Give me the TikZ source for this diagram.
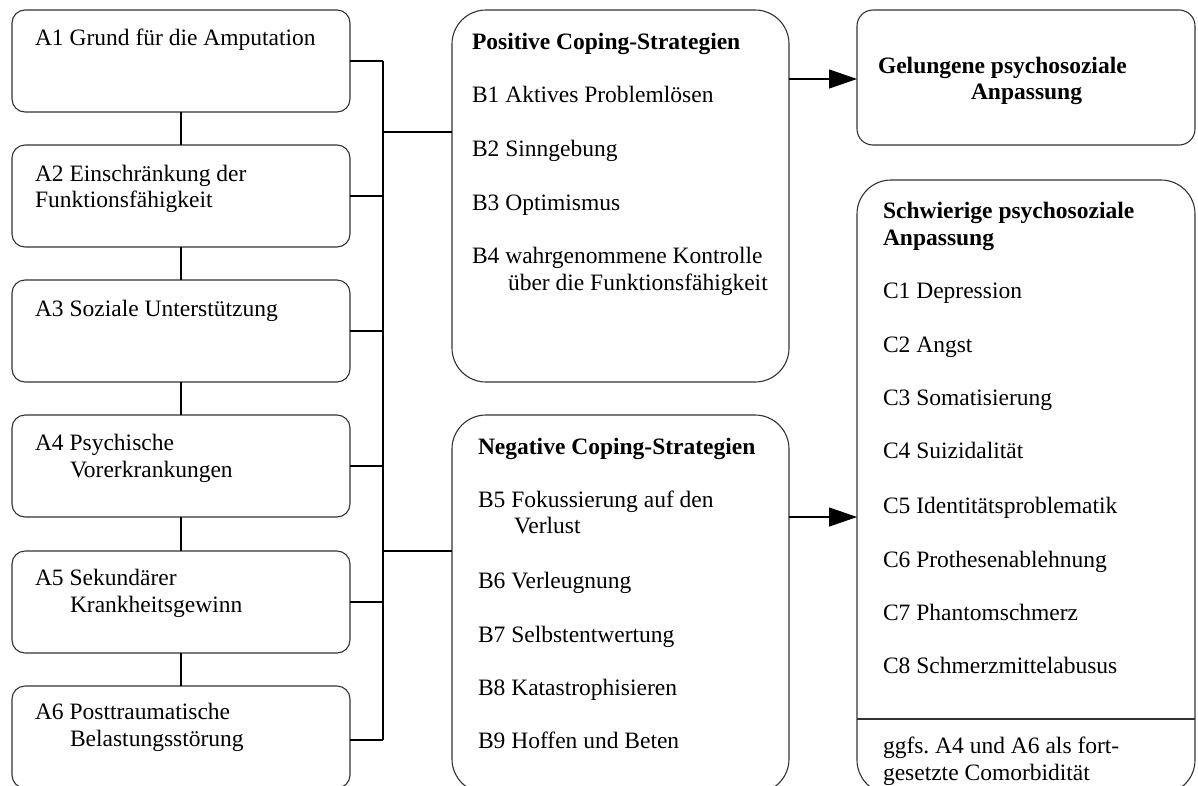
\documentclass[tikz,border=0pt]{standalone}
\usepackage{fontspec}
\setmainfont{Liberation Serif}
\usetikzlibrary{arrows.meta}
\frenchspacing
\tikzset{
  box/.style={draw=black!80, line width=1.1pt, inner sep=0pt, outer sep=0pt},
  abox/.style={box, rounded corners=13pt, minimum width=338pt, minimum height=102pt},
  bbox/.style={box, rounded corners=34pt, minimum width=337pt},
  lbl/.style={anchor=base west, inner sep=0pt, outer sep=0pt, font=\fontsize{23.5}{26.5}\selectfont},
  blbl/.style={lbl, font=\fontsize{23.5}{26.5}\selectfont\bfseries},
  conn/.style={draw=black, line width=1.2pt},
  arr/.style={conn, -{Triangle[length=28pt,width=19pt]}}
}
\begin{document}
\begin{tikzpicture}[x=1pt,y=-1pt]
\useasboundingbox (0,0) rectangle (1198,785);
\clip (0,0) rectangle (1198,785);
\fill[white] (0,0) rectangle (1198,785);
% A boxes
\node[abox] (A1) at (181,61) {};
\node[abox] (A2) at (181,196) {};
\node[abox] (A3) at (181,331) {};
\node[abox] (A4) at (181,466) {};
\node[abox] (A5) at (181,602) {};
\node[abox] (A6) at (181,737) {};
% B boxes
\node[bbox, minimum height=372pt] (Bp) at (620.5,196) {};
\node[bbox, minimum height=378pt] (Bn) at (620.5,604) {};
% C boxes
\node[box, rounded corners=16pt, minimum width=338pt, minimum height=135pt] (G) at (1026,77.5) {};
\node[box, rounded corners=34pt, minimum width=338pt, minimum height=614pt] (S) at (1026,487) {};
\draw[draw=black!80, line width=1.1pt] (S.west |- 0,719) -- (S.east |- 0,719);
% texts A
\node[lbl] (ta1) at (35,45) {A1 Grund für die Amputation};
\node[lbl] (ta2a) at (35,181) {A2 Einschränkung der};
\node[lbl] (ta2b) at (35,207) {Funktionsfähigkeit};
\node[lbl] (ta3) at (35,316) {A3 Soziale Unterstützung};
\node[lbl] (ta4a) at (35,450) {A4 Psychische};
\node[lbl] (ta4b) at (70,477) {Vorerkrankungen};
\node[lbl] (ta5a) at (35,585) {A5 Sekundärer};
\node[lbl] (ta5b) at (70,612) {Krankheitsgewinn};
\node[lbl] (ta6a) at (35,719) {A6 Posttraumatische};
\node[lbl] (ta6b) at (70,746) {Belastungsstörung};
% texts B positive
\node[blbl] (tbp) at (472,49) {Positive Coping-Strategien};
\node[lbl] (tb1) at (472,102) {B1 Aktives Problemlösen};
\node[lbl] (tb2) at (472,156) {B2 Sinngebung};
\node[lbl] (tb3) at (472,210) {B3 Optimismus};
\node[lbl] (tb4a) at (472,263) {B4 wahrgenommene Kontrolle};
\node[lbl] (tb4b) at (508,290) {über die Funktionsfähigkeit};
% texts B negative
\node[blbl] (tbn) at (478,454) {Negative Coping-Strategien};
\node[lbl] (tb5a) at (478,507) {B5 Fokussierung auf den};
\node[lbl] (tb5b) at (514,533) {Verlust};
\node[lbl] (tb6) at (478,588) {B6 Verleugnung};
\node[lbl] (tb7) at (478,642) {B7 Selbstentwertung};
\node[lbl] (tb8) at (478,695) {B8 Katastrophisieren};
\node[lbl] (tb9) at (478,748) {B9 Hoffen und Beten};
% texts C
\node[blbl] (tg1) at (878,73) {Gelungene psychosoziale};
\node[blbl] (tg2) at (971,99) {Anpassung};
\node[blbl] (ts1) at (883,218) {Schwierige psychosoziale};
\node[blbl] (ts2) at (883,245) {Anpassung};
\node[lbl] (tc1) at (883,298) {C1 Depression};
\node[lbl] (tc2) at (883,352) {C2 Angst};
\node[lbl] (tc3) at (883,405) {C3 Somatisierung};
\node[lbl] (tc4) at (883,458) {C4 Suizidalität};
\node[lbl] (tc5) at (883,513) {C5 Identitätsproblematik};
\node[lbl] (tc6) at (883,567) {C6 Prothesenablehnung};
\node[lbl] (tc7) at (883,620) {C7 Phantomschmerz};
\node[lbl] (tc8) at (883,673) {C8 Schmerzmittelabusus};
\node[lbl] (tf1) at (883,753) {ggfs.\ A4 und A6 als fort-};
\node[lbl] (tf2) at (883,780) {gesetzte Comorbidität};
% connectors
\draw[conn] (A1.south) -- (A2.north);
\draw[conn] (A2.south) -- (A3.north);
\draw[conn] (A3.south) -- (A4.north);
\draw[conn] (A4.south) -- (A5.north);
\draw[conn] (A5.south) -- (A6.north);
\coordinate (bus) at (383,0);
\foreach \n in {A1,A2,A3,A4,A5} {\draw[conn] (\n.east) -- (\n.east -| bus);}
\coordinate (a6c) at (350,740);
\draw[conn] (a6c) -- (a6c -| bus);
\draw[conn] (A1.east -| bus) -- (a6c -| bus);
\coordinate (jp) at (383,132);
\coordinate (jn) at (383,551);
\draw[conn] (jp) -- (jp -| Bp.west);
\draw[conn] (jn) -- (jn -| Bn.west);
\coordinate (ap) at (789,79);
\coordinate (an) at (789,517);
\draw[arr] (ap) -- (ap -| G.west);
\draw[arr] (an) -- (an -| S.west);
\end{tikzpicture}
\end{document}
